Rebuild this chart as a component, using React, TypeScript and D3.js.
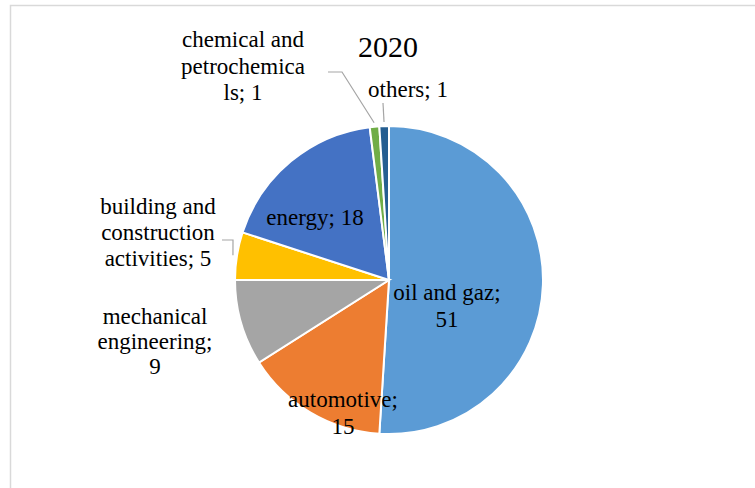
import React from "react";
import * as d3 from "d3";

const title = "2020";
const categories = [
  "oil and gaz",
  "automotive",
  "mechanical engineering",
  "building and construction activities",
  "energy",
  "chemical and petrochemicals",
  "others",
];
const values = [51, 15, 9, 5, 18, 1, 1];
const colors = ["#5B9BD5", "#ED7D31", "#A5A5A5", "#FFC000", "#4472C4", "#70AD47", "#255E91"];

const labelLines = [
  ["oil and gaz;", "51"],
  ["automotive;", "15"],
  ["mechanical", "engineering;", "9"],
  ["building and", "construction", "activities; 5"],
  ["energy; 18"],
  ["chemical and", "petrochemica", "ls; 1"],
  ["others; 1"],
];

const labelLayout = [
  { x: 447, y: 300, lh: 27, leader: null },
  { x: 343, y: 407, lh: 27, leader: null },
  { x: 155, y: 324, lh: 25, leader: null },
  { x: 158, y: 214, lh: 26, leader: [[222, 240], [233, 240]] },
  { x: 315, y: 225, lh: 27, leader: null },
  { x: 243, y: 47, lh: 26.5, leader: [[328, 72], [342, 72]] },
  { x: 408, y: 97, lh: 27, leader: [[383, 103]] },
];

const W = 755;
const H = 488;
const cx = 389;
const cy = 280;
const R = 154;
const FONT = '"Liberation Serif", "DejaVu Serif", serif';

export default function App() {
  const pie = d3.pie<number>().sort(null).value((d) => d)(values);
  const arc = d3.arc<d3.PieArcDatum<number>>().innerRadius(0).outerRadius(R);

  return (
    <svg
      width={W}
      height={H}
      style={{ position: "absolute", left: 0, top: 0, background: "#fff" }}
    >
      <rect x={10.5} y={5.5} width={900} height={600} fill="#fff" stroke="#d9d9d9" strokeWidth={1.5} />
      <text x={388} y={57} textAnchor="middle" style={{ fontFamily: FONT, fontSize: "30px" }} fill="#000">
        {title}
      </text>
      <g transform={`translate(${cx},${cy})`}>
        {pie.map((p, i) => (
          <path key={categories[i]} d={arc(p) || ""} fill={colors[i]} stroke="#fff" strokeWidth={2} />
        ))}
      </g>
      {pie.map((p, i) => {
        const L = labelLayout[i];
        if (!L.leader) return null;
        const mid = (p.startAngle + p.endAngle) / 2;
        const ex = cx + Math.sin(mid) * (R + 4);
        const ey = cy - Math.cos(mid) * (R + 4);
        const pts = [...L.leader, [ex, ey]] as [number, number][];
        return (
          <path key={"l" + i} d={d3.line()(pts) || ""} fill="none" stroke="#a5a5a5" strokeWidth={1.2} />
        );
      })}
      {labelLines.map((lines, i) => {
        const L = labelLayout[i];
        return (
          <text key={"t" + i} textAnchor="middle" style={{ fontFamily: FONT, fontSize: "23px" }} fill="#000">
            {lines.map((ln, j) => (
              <tspan key={j} x={L.x} y={L.y + j * L.lh}>
                {ln}
              </tspan>
            ))}
          </text>
        );
      })}
    </svg>
  );
}
